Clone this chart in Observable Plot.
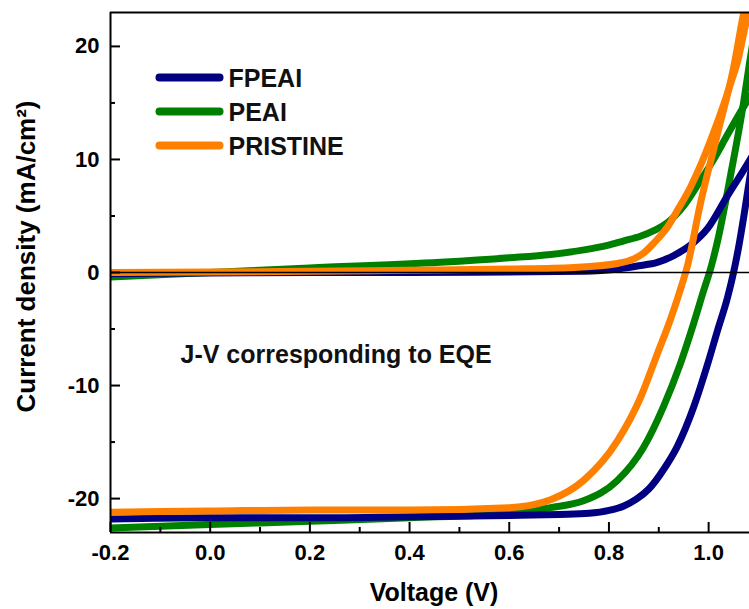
<!DOCTYPE html>
<html><head><meta charset="utf-8">
<script src="https://cdn.jsdelivr.net/npm/d3@7"></script>
<script src="https://cdn.jsdelivr.net/npm/@observablehq/plot@0.6"></script>
<style>body{margin:0;background:#fff}</style>
</head><body><div id="chart"></div>
<script>
const seriesNames = ["FPEAI", "PEAI", "PRISTINE"];
const seriesColors = ["#000080", "#008000", "#ff8000"];

// FPEAI
const fpeaiLightV = [-0.2, 0.0, 0.2, 0.4, 0.6, 0.7, 0.76, 0.8, 0.83, 0.855, 0.88, 0.91, 0.937, 0.97, 0.998, 1.018, 1.038, 1.05, 1.06, 1.07, 1.082, 1.1];
const fpeaiLightJ = [-21.8, -21.7, -21.7, -21.6, -21.5, -21.4, -21.3, -21.05, -20.65, -20.05, -19.15, -17.4, -15.4, -11.9, -8.1, -5.1, -2.2, 0.0, 2.2, 4.8, 8.2, 13.0];
const fpeaiDarkV = [-0.2, 0.0, 0.2, 0.4, 0.6, 0.75, 0.823, 0.86, 0.897, 0.93, 0.963, 0.998, 1.038, 1.082, 1.1];
const fpeaiDarkJ = [-0.1, -0.05, 0.0, 0.0, 0.05, 0.1, 0.35, 0.6, 0.9, 1.5, 2.4, 3.9, 6.8, 9.9, 11.3];
// PEAI
const peaiLightV = [-0.2, 0.0, 0.2, 0.4, 0.6, 0.683, 0.749, 0.817, 0.869, 0.909, 0.943, 0.97, 0.99, 1.005, 1.018, 1.044, 1.07, 1.082, 1.1];
const peaiLightJ = [-22.6, -22.3, -22.0, -21.7, -21.3, -20.8, -20.2, -18.4, -15.5, -11.9, -8.1, -4.5, -1.6, 0.5, 2.8, 8.6, 15.0, 18.5, 23.5];
const peaiDarkV = [-0.2, 0.0, 0.2, 0.462, 0.6, 0.683, 0.75, 0.797, 0.83, 0.863, 0.89, 0.917, 0.95, 0.983, 1.01, 1.038, 1.06, 1.082, 1.1];
const peaiDarkJ = [-0.4, 0.0, 0.4, 0.9, 1.3, 1.6, 2.0, 2.4, 2.8, 3.2, 3.7, 4.4, 5.9, 8.1, 10.0, 12.2, 13.9, 15.5, 16.8];
// PRISTINE
const pristineLightV = [-0.2, 0.0, 0.2, 0.4, 0.6, 0.683, 0.749, 0.817, 0.863, 0.897, 0.923, 0.949, 0.957, 0.983, 1.018, 1.05, 1.07, 1.1];
const pristineLightJ = [-21.2, -21.1, -21.0, -21.0, -20.8, -20.1, -18.4, -14.9, -11.1, -7.2, -4.2, -0.7, 0.5, 6.0, 12.3, 18.1, 22.9, 28.5];
const pristineDarkV = [-0.2, 0.0, 0.2, 0.4, 0.6, 0.73, 0.817, 0.85, 0.869, 0.89, 0.917, 0.94, 0.963, 0.985, 1.004, 1.025, 1.044, 1.06, 1.07, 1.085];
const pristineDarkJ = [0.0, 0.05, 0.1, 0.2, 0.3, 0.45, 0.8, 1.2, 1.7, 2.6, 4.0, 5.7, 7.5, 9.6, 11.7, 14.2, 16.7, 19.0, 21.1, 24.0];

const xMajorTicks = [-0.2, 0.0, 0.2, 0.4, 0.6, 0.8, 1.0];
const xMinorTicks = [-0.1, 0.1, 0.3, 0.5, 0.7, 0.9];
const yMajorTicks = [-20, -10, 0, 10, 20];
const yMinorTicks = [-15, -5, 5, 15];

const xLabel = "Voltage (V)";
const yLabel = "Current density (mA/cm\u00B2)";
const annotation = "J-V corresponding to EQE";

function curve(series, kind, vs, js) {
  return vs.map((v, i) => ({series, kind, v, j: js[i]}));
}
const rows = [
  ...curve("PEAI", "dark", peaiDarkV, peaiDarkJ),
  ...curve("PEAI", "light", peaiLightV, peaiLightJ),
  ...curve("FPEAI", "dark", fpeaiDarkV, fpeaiDarkJ),
  ...curve("FPEAI", "light", fpeaiLightV, fpeaiLightJ),
  ...curve("PRISTINE", "dark", pristineDarkV, pristineDarkJ),
  ...curve("PRISTINE", "light", pristineLightV, pristineLightJ)
];

const lineShape = {draw(context, l) { context.moveTo(0, 0); context.lineTo(0, -l); }};
const font = "'Liberation Sans', Arial, sans-serif";

const legendMarks = seriesNames.flatMap((name, i) => [
  Plot.vector([name], {frameAnchor: "top-left", dx: 49, dy: 65 + i * 34, rotate: 90, length: 60, anchor: "start",
    shape: lineShape, stroke: seriesColors[i], strokeWidth: 8, strokeLinecap: "round"}),
  Plot.text([name], {frameAnchor: "top-left", dx: 118, dy: 66 + i * 34, text: d => d, textAnchor: "start",
    lineAnchor: "middle", fontSize: 25, fontWeight: "bold", fill: "#111"})
]);

const chart = Plot.plot({
  width: 749, height: 609,
  marginLeft: 110, marginRight: 0, marginTop: 12, marginBottom: 77,
  style: {fontFamily: font, fontWeight: "bold", background: "#fff", color: "#000"},
  x: {domain: [-0.2, 1.082]},
  y: {domain: [-23, 23]},
  color: {domain: seriesNames, range: seriesColors},
  marks: [
    Plot.line(rows, {x: "v", y: "j", z: d => d.series + d.kind, stroke: "series", strokeWidth: 7,
      curve: "monotone-x", clip: true}),
    Plot.ruleY([0], {stroke: "#000", strokeWidth: 1.5}),
    Plot.axisX({ticks: xMajorTicks, tickSize: -10, tickPadding: 22, strokeWidth: 2,
      tickFormat: d => d.toFixed(1), fontSize: 22, fontWeight: "bold", label: null}),
    Plot.axisX({ticks: xMinorTicks, tickSize: -5, strokeWidth: 2, tickFormat: () => "", label: null}),
    Plot.axisY({ticks: yMajorTicks, tickSize: -10, tickPadding: 21, strokeWidth: 2,
      tickFormat: d => String(d), fontSize: 22, fontWeight: "bold", label: null}),
    Plot.axisY({ticks: yMinorTicks, tickSize: -5, strokeWidth: 2, tickFormat: () => "", label: null}),
    Plot.ruleX([-0.2], {stroke: "#000", strokeWidth: 2}),
    Plot.ruleY([-23], {stroke: "#000", strokeWidth: 2}),
    Plot.ruleY([23], {stroke: "#000", strokeWidth: 2}),
    ...legendMarks,
    Plot.text([annotation], {frameAnchor: "top-left", dx: 70, dy: 342, text: d => d, textAnchor: "start",
      lineAnchor: "middle", fontSize: 25, fontWeight: "bold", fill: "#111"}),
    Plot.text([xLabel], {frameAnchor: "bottom", dx: 4, dy: 60, text: d => d, textAnchor: "middle",
      lineAnchor: "middle", fontSize: 25, fontWeight: "bold"}),
    Plot.text([yLabel], {frameAnchor: "left", dx: -84, dy: -16, rotate: -90, text: d => d, textAnchor: "middle",
      lineAnchor: "middle", fontSize: 26, fontWeight: "bold"})
  ]
});
document.getElementById("chart").appendChild(chart);
</script></body></html>
